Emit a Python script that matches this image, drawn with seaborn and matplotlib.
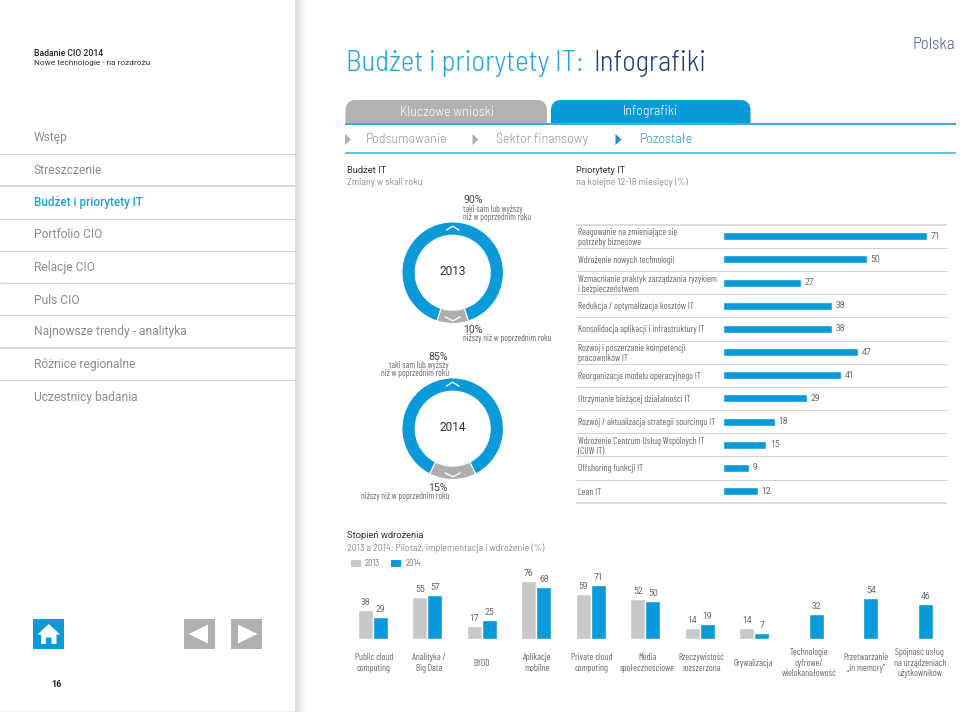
import numpy as np
import pandas as pd
import matplotlib
matplotlib.use("Agg")
import matplotlib.pyplot as plt
from matplotlib.patches import Rectangle, FancyBboxPatch, Polygon
from matplotlib.transforms import ScaledTranslation
import seaborn as sns

# ---------- data ----------
nav_items = ["Wstęp", "Streszczenie", "Budżet i priorytety IT", "Portfolio CIO", "Relacje CIO",
             "Puls CIO", "Najnowsze trendy - analityka", "Różnice regionalne", "Uczestnicy badania"]
donut_years = ["2013", "2014"]
budget_same_higher = [90, 85]
budget_lower = [10, 15]
priority_labels = ["Reagowanie na zmieniające się\npotrzeby biznesowe", "Wdrożenie nowych technologii",
                   "Wzmacnianie praktyk zarządzania ryzykiem\ni bezpieczeństwem",
                   "Redukcja / optymalizacja kosztów IT", "Konsolidacja aplikacji i infrastruktury IT",
                   "Rozwój i poszerzanie kompetencji\npracowników IT", "Reorganizacja modelu operacyjnego IT",
                   "Utrzymanie bieżącej działalności IT", "Rozwój / aktualizacja strategii sourcingu IT",
                   "Wdrożenie Centrum Usług Wspólnych IT\n(CUW IT)", "Offshoring funkcji IT", "Lean IT"]
priority_values = [71, 50, 27, 38, 38, 47, 41, 29, 18, 15, 9, 12]
adoption_labels = ["Public cloud\ncomputing", "Analityka /\nBig Data", "BYOD", "Aplikacje\nmobilne",
                   "Private cloud\ncomputing", "Media\nspołecznościowe", "Rzeczywistość\nrozszerzona",
                   "Grywalizacja", "Technologie\ncyfrowe/\nwielokanałowość", "Przetwarzanie\n„in memory”",
                   "Spójność usług\nna urządzeniach\nużytkowników"]
adoption_2013 = [38, 55, 17, 76, 59, 52, 14, 14, np.nan, np.nan, np.nan]
adoption_2014 = [29, 57, 25, 68, 71, 50, 19, 7, 32, 54, 46]

BLUE = "#0a9ad9"
GRAY = "#aeaeae"
LGRAY = "#c8c8c8"
TXT = "#8c8c8c"
W, H = 960, 712
ROBOTO = ["Roboto", "DejaVu Sans"]
NARROW = ["Barlow Condensed", "Roboto", "DejaVu Sans"]
SEMI = ["Barlow Semi Condensed", "Roboto", "DejaVu Sans"]

sns.set_theme(style="white")
plt.rcParams["font.family"] = ROBOTO

fig = plt.figure(figsize=(W / 100, H / 100), dpi=100, facecolor="white")


def axes_px(x0, y0, x1, y1, **kw):
    return fig.add_axes([x0 / W, 1 - y1 / H, (x1 - x0) / W, (y1 - y0) / H], **kw)


# page overlay in pixel coordinates
bg = fig.add_axes([0, 0, 1, 1], zorder=0)
bg.set_xlim(0, W)
bg.set_ylim(H, 0)
bg.axis("off")


def T(x, y, s, size=9, color=TXT, ha="left", va="center", **kw):
    return bg.text(x, y, s, fontsize=size * 0.72, color=color, ha=ha, va=va, **kw)


def hline(y, x0, x1, color="#d2d2d2", lw=1.0, zorder=2):
    bg.plot([x0, x1], [y, y], color=color, lw=lw * 0.72, solid_capstyle="butt", zorder=zorder)


# panel shadow
shadow = np.linspace(0.86, 1.0, 32)[None, :]
bg.imshow(shadow, extent=(295, 306, H, 0), cmap="gray", vmin=0, vmax=1, aspect="auto", zorder=0.5)
bg.set_xlim(0, W)
bg.set_ylim(H, 0)
hline(711.5, 0, 295, color="#ececec", lw=1.5)

# header
T(33.5, 53.5, "Badanie CIO 2014", size=8.6, color="#222222", fontweight="medium")
T(33.5, 63.5, "Nowe technologie - na rozdrożu", size=8.3, color="#333333")
T(346, 63.5, "Budżet i priorytety IT:", size=29, color="#22a5de", family=SEMI, fontweight=300)
T(593, 63.5, "Infografiki", size=28.5, color="#1d3f78", family=SEMI, fontweight=300)
T(955, 45, "Polska", size=17, color="#4a5f85", ha="right", family=SEMI, fontweight=300)

# left nav
nav_y = [137.7, 170, 202.5, 235, 267, 300, 332, 364.5, 397]
nav_lines = [(153.7, 1), (185.7, 1.8), (218.7, 1), (250.5, 1), (283, 1.4), (315.3, 1), (348, 1.8), (380.3, 1)]
for name, y in zip(nav_items, nav_y):
    active = name == "Budżet i priorytety IT"
    T(33.5, y, name, size=11.6 if active else 12, color="#1ba3c9" if active else TXT,
      fontweight="medium" if active else "normal")
for y, lw in nav_lines:
    hline(y, 0, 295, lw=lw)

# bottom icons
bg.add_patch(Rectangle((33.3, 618.7), 30.7, 30.7, color=BLUE, lw=0))
bg.add_patch(Polygon([(37.5, 634.5), (48.7, 624), (60, 634.5), (56.5, 634.5), (56.5, 644), (51.5, 644), (51.5, 637.5),
                      (46, 637.5), (46, 644), (41, 644), (41, 634.5)], color="white", lw=0))
bg.add_patch(Rectangle((184, 618.7), 30.7, 30.7, color="#b0b0b0", lw=0))
bg.add_patch(Polygon([(188.5, 634), (208, 624.5), (208, 643.5)], color="white", lw=0))
bg.add_patch(Rectangle((231, 618.7), 30.7, 30.7, color="#b0b0b0", lw=0))
bg.add_patch(Polygon([(257.5, 634), (238, 624.5), (238, 643.5)], color="white", lw=0))
T(56, 684.5, "16", size=9, color="#222222", ha="center", fontweight="bold")

# tabs
for x0, x1, c in [(345.5, 547, "#b2b2b2"), (551, 750.5, BLUE)]:
    bg.add_patch(FancyBboxPatch((x0 + 5, 105), x1 - x0 - 10, 25, boxstyle="round,pad=0,rounding_size=5",
                                mutation_scale=1, color=c, lw=10 * 0.72, zorder=1))
bg.add_patch(Rectangle((340, 123), 620, 20, color="white", lw=0, zorder=1.5))
hline(123.5, 345, 956, color=BLUE, lw=1.6, zorder=5)
T(447, 112, "Kluczowe wnioski", size=14, color="white", ha="center", zorder=3, family=SEMI, fontweight=300)
T(650.5, 112, "Infografiki", size=14, color="white", ha="center", zorder=3, family=SEMI, fontweight=300)

# sub nav
for x, c in [(345, GRAY), (472.5, GRAY), (615.5, "#1f8fc0")]:
    bg.add_patch(Polygon([(x, 134), (x, 145), (x + 6, 139.5)], color=c, lw=0, zorder=2))
T(366, 139.5, "Podsumowanie", size=14, color="#9a9a9a", family=SEMI, fontweight=300)
T(496, 139.5, "Sektor finansowy", size=14, color="#9a9a9a", family=SEMI, fontweight=300)
T(640, 139.5, "Pozostałe", size=14, color="#22a0c4", family=SEMI, fontweight=300)
hline(153, 345, 956, color="#3db4d6", lw=1.6)

# donut section
T(347, 170.5, "Budżet IT", size=9.4, color="#333333")
T(347, 182.5, "Zmiany w skali roku", size=10, color=TXT, family=SEMI)
T(463, 200, f"{budget_same_higher[0]}%", size=10.5, color="#444444")
T(463, 209, "taki sam lub wyższy", size=8.8, color="#666666", family=NARROW)
T(463, 217.3, "niż w poprzednim roku", size=8.8, color="#666666", family=NARROW)
T(463, 329.7, f"{budget_lower[0]}%", size=10.5, color="#444444")
T(463, 338.7, "niższy niż w poprzednim roku", size=8.8, color="#666666", family=NARROW)
T(448, 356.7, f"{budget_same_higher[1]}%", size=10.5, color="#444444", ha="right")
T(449, 365, "taki sam lub wyższy", size=8.8, color="#666666", ha="right", family=NARROW)
T(449, 373.3, "niż w poprzednim roku", size=8.8, color="#666666", ha="right", family=NARROW)
T(448, 487.7, f"{budget_lower[1]}%", size=10.5, color="#444444", ha="right")
T(449, 496.5, "niższy niż w poprzednim roku", size=8.8, color="#666666", ha="right", family=NARROW)

for cy, year, hi, lo in zip([272.7, 428.7], donut_years, budget_same_higher, budget_lower):
    cx, r = 452.7, 52
    ax = axes_px(cx - r, cy - r, cx + r, cy + r, zorder=3)
    ax.pie([hi, lo], colors=[BLUE, GRAY], startangle=270 + 1.8 * lo, radius=50.8 / r, counterclock=True,
           wedgeprops=dict(width=13.3 / r, edgecolor="white", linewidth=0.8))
    ax.set_xlim(-1, 1)
    ax.set_ylim(-1, 1)
    ax.set_aspect("equal")
    ax.text(0, 0.02, year, ha="center", va="center", fontsize=8.6, color="#333333")
    ax.plot([-0.12, 0.0, 0.12], [0.82, 0.895, 0.82], color="white", lw=1.0)
    ax.plot([-0.145, 0.0, 0.145], [-0.85, -0.925, -0.85], color="white", lw=1.0)

# priorities
T(576.5, 170.5, "Priorytety IT", size=9.2, color="#333333")
T(576.5, 182.5, "na kolejne 12-18 miesięcy (%)", size=10, color=TXT, family=SEMI)
row_top, row_h = 224.7, 23.17
for i in range(13):
    hline(row_top + i * row_h, 576, 946.5, lw=1.5 if i in (0, 12) else 1.0)

df_p = pd.DataFrame({"label": priority_labels, "value": priority_values})
x0, scale = 723.3, (927 - 723.3) / 71
ax_p = axes_px(x0, row_top, x0 + 80 * scale, row_top + 12 * row_h, zorder=3)
ax_p.patch.set_alpha(0)
sns.barplot(data=df_p, x="value", y="label", color=BLUE, saturation=1, width=0.345, ax=ax_p)
ax_p.set_xlim(0, 80)
ax_p.set_ylim(11.5, -0.5)
ax_p.set_xlabel("")
ax_p.set_ylabel("")
ax_p.set_xticks([])
sns.despine(ax=ax_p, left=True, bottom=True)
ax_p.tick_params(axis="y", length=0, pad=(723.3 - 578.0) * 0.72)
for lab in ax_p.get_yticklabels():
    lab.set_ha("left")
    lab.set_family(NARROW)
    lab.set_fontsize(6.7)
    lab.set_color("#666666")
    lab.set_linespacing(1.15)
for i, v in enumerate(priority_values):
    ax_p.annotate(str(v), (v, i), xytext=(2.6, 0), textcoords="offset points", va="center", ha="left",
                  fontsize=6.2, color="#666666")

# adoption
T(347, 536, "Stopień wdrożenia", size=9.4, color="#333333")
T(347, 548, "2013 a 2014: Pilotaż, implementacja i wdrożenie (%)", size=10, color=TXT, family=SEMI)
long_df = pd.DataFrame({
    "tech": adoption_labels * 2,
    "year": ["2013"] * len(adoption_labels) + ["2014"] * len(adoption_labels),
    "value": list(adoption_2013) + list(adoption_2014),
})
gx0, step = 372.8, 54.5
base = 638.7
ax_a = axes_px(gx0 - step / 2, base - 80 * 0.76, gx0 + 10.5 * step, base, zorder=3)
ax_a.patch.set_alpha(0)
sns.barplot(data=long_df, x="tech", y="value", hue="year", palette={"2013": LGRAY, "2014": BLUE},
            saturation=1, width=0.553, gap=0, legend=False, ax=ax_a)
ax_a.set_ylim(0, 80)
ax_a.set_xlim(-0.5, 10.5)
ax_a.set_xlabel("")
ax_a.set_ylabel("")
ax_a.set_yticks([])
sns.despine(ax=ax_a, left=True, bottom=True)
ax_a.tick_params(axis="x", length=0, pad=17.5)
label_nudge = [1, 2, 0, 1, 1, 2, 2, -1, 0, 3, 2]
for lab, dx in zip(ax_a.get_xticklabels(), label_nudge):
    lab.set_va("center")
    lab.set_ha("center")
    lab.set_family(NARROW)
    lab.set_fontsize(6.7)
    lab.set_color("#666666")
    lab.set_linespacing(1.15)
    lab.set_transform(lab.get_transform() + ScaledTranslation(dx / 100, 0, fig.dpi_scale_trans))
off = 0.553 / 4
for i, (a, b) in enumerate(zip(adoption_2013, adoption_2014)):
    if not np.isnan(a):
        ax_a.annotate(str(int(a)), (i - off, a), xytext=(0, 2.2), textcoords="offset points", ha="center",
                      va="bottom", fontsize=6.2, color="#666666")
    ax_a.annotate(str(int(b)), (i + off, b), xytext=(0, 2.2), textcoords="offset points", ha="center",
                  va="bottom", fontsize=6.2, color="#666666")

# adoption legend
bg.add_patch(Rectangle((350.7, 559.5), 9.8, 7.2, color=LGRAY, lw=0))
bg.add_patch(Rectangle((390.6, 559.5), 9.9, 7.2, color=BLUE, lw=0))
T(365, 563, "2013", size=8.8, color="#777777", family=SEMI)
T(405.5, 563, "2014", size=8.8, color="#777777", family=SEMI)

fig.savefig("out.png", dpi=100, facecolor="white")
